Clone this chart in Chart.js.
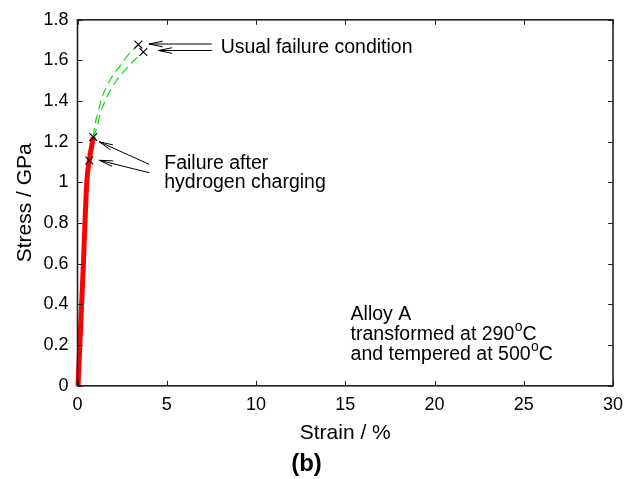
<!DOCTYPE html>
<html>
<head>
<meta charset="utf-8">
<title>Stress-strain, alloy A</title>
<script src="https://cdn.jsdelivr.net/npm/chart.js@4.4.1/dist/chart.umd.min.js"></script>
<style>
  html, body { margin: 0; padding: 0; background: #fff; }
</style>
</head>
<body>
<canvas id="stressChart" width="627" height="479"></canvas>
<script>
// values: strain in %, stress in GPa
const elasticStrain = [0.03, 0.18, 0.33, 0.52, 0.66, 0.885];
const elasticStress = [0, 0.3, 0.6, 1.0, 1.108, 1.223];

const usualUpperStrain = [0.885, 0.98, 1.17, 1.36, 1.64, 2.01, 2.38, 2.85, 3.41];
const usualUpperStress = [1.223, 1.286, 1.351, 1.417, 1.473, 1.531, 1.572, 1.629, 1.678];

const usualLowerStrain = [0.885, 1.08, 1.26, 1.54, 1.92, 2.29, 2.76, 3.22, 3.69];
const usualLowerStress = [1.223, 1.269, 1.334, 1.4, 1.465, 1.514, 1.563, 1.605, 1.642];

const failureStrain = [0.66, 0.885, 3.41, 3.69];
const failureStress = [1.108, 1.223, 1.678, 1.642];

const xTickValues = [0, 5, 10, 15, 20, 25, 30];
const yTickValues = [0, 0.2, 0.4, 0.6, 0.8, 1, 1.2, 1.4, 1.6, 1.8];

const FONT = "'Liberation Sans', Arial, Helvetica, sans-serif";

const toPoints = (xs, ys) => xs.map((v, i) => ({ x: v, y: ys[i] }));

// arrows: tail -> head, in data coordinates
const arrows = [
  { from: [7.52, 1.681], to: [4.0, 1.681] },
  { from: [7.52, 1.649], to: [4.53, 1.649] },
  { from: [4.02, 1.089], to: [1.22, 1.2] },
  { from: [4.02, 1.048], to: [1.22, 1.109] },
];

function drawArrow(ctx, x0, y0, x1, y1) {
  const ang = Math.atan2(y1 - y0, x1 - x0);
  const len = 14, spread = 0.2;
  ctx.beginPath();
  ctx.moveTo(x0, y0);
  ctx.lineTo(x1, y1);
  ctx.moveTo(x1 - len * Math.cos(ang - spread), y1 - len * Math.sin(ang - spread));
  ctx.lineTo(x1, y1);
  ctx.lineTo(x1 - len * Math.cos(ang + spread), y1 - len * Math.sin(ang + spread));
  ctx.stroke();
}

// text with a raised "o" before the trailing "C"
function drawDegreeText(ctx, text, x, y) {
  ctx.font = "19.5px " + FONT;
  ctx.fillText(text, x, y);
  let w = ctx.measureText(text).width;
  ctx.font = "14px " + FONT;
  ctx.fillText("o", x + w + 0.5, y - 8);
  w += ctx.measureText("o").width + 0.5;
  ctx.font = "19.5px " + FONT;
  ctx.fillText("C", x + w, y);
}

const figureDecor = {
  id: "figureDecor",
  afterDatasetsDraw(chart) {
    const { ctx, chartArea: a, scales: { x, y } } = chart;
    ctx.save();

    // inward ticks on all four sides
    ctx.strokeStyle = "#222";
    ctx.lineWidth = 1;
    ctx.beginPath();
    xTickValues.forEach((v) => {
      const px = Math.round(x.getPixelForValue(v)) + 0.5;
      ctx.moveTo(px, a.bottom); ctx.lineTo(px, a.bottom - 5);
      ctx.moveTo(px, a.top); ctx.lineTo(px, a.top + 5);
    });
    yTickValues.forEach((v) => {
      const py = Math.round(y.getPixelForValue(v)) + 0.5;
      ctx.moveTo(a.left, py); ctx.lineTo(a.left + 5, py);
      ctx.moveTo(a.right, py); ctx.lineTo(a.right - 5, py);
    });
    ctx.stroke();

    // frame
    ctx.lineWidth = 1.6;
    ctx.strokeRect(a.left, a.top, a.right - a.left, a.bottom - a.top);

    // arrows
    ctx.strokeStyle = "#000";
    ctx.lineWidth = 1;
    arrows.forEach((ar) => {
      drawArrow(ctx,
        x.getPixelForValue(ar.from[0]), y.getPixelForValue(ar.from[1]),
        x.getPixelForValue(ar.to[0]), y.getPixelForValue(ar.to[1]));
    });

    // labels
    ctx.fillStyle = "#000";
    ctx.textAlign = "left";
    ctx.textBaseline = "middle";
    ctx.font = "19.5px " + FONT;
    ctx.fillText("Usual failure condition", x.getPixelForValue(8.02), y.getPixelForValue(1.662));
    ctx.fillText("Failure after", x.getPixelForValue(4.86), y.getPixelForValue(1.092));
    ctx.fillText("hydrogen charging", x.getPixelForValue(4.86), y.getPixelForValue(0.999));

    const ax = x.getPixelForValue(15.3);
    ctx.fillText("Alloy A", ax, y.getPixelForValue(0.349));
    drawDegreeText(ctx, "transformed at 290", ax, y.getPixelForValue(0.251));
    drawDegreeText(ctx, "and tempered at 500", ax, y.getPixelForValue(0.152));

    ctx.restore();
  },
};

const ctx = document.getElementById("stressChart");
new Chart(ctx, {
  type: "line",
  data: {
    datasets: [
      {
        label: "elastic",
        data: toPoints(elasticStrain, elasticStress),
        borderColor: "#ff0000",
        borderWidth: 5,
        pointRadius: 0,
        cubicInterpolationMode: "monotone",
        clip: false,
        order: 2,
      },
      {
        label: "usual upper",
        data: toPoints(usualUpperStrain, usualUpperStress),
        borderColor: "#11dd11",
        borderWidth: 1.2,
        borderDash: [9, 5],
        pointRadius: 0,
        cubicInterpolationMode: "monotone",
        order: 1,
      },
      {
        label: "usual lower",
        data: toPoints(usualLowerStrain, usualLowerStress),
        borderColor: "#11dd11",
        borderWidth: 1.2,
        borderDash: [9, 5],
        pointRadius: 0,
        cubicInterpolationMode: "monotone",
        order: 1,
      },
      {
        type: "scatter",
        label: "failure",
        data: toPoints(failureStrain, failureStress),
        showLine: false,
        pointStyle: "crossRot",
        pointRadius: 5.5,
        borderColor: "#000",
        borderWidth: 1.1,
        clip: false,
        order: 0,
      },
    ],
  },
  options: {
    responsive: false,
    animation: false,
    devicePixelRatio: 1,
    layout: { padding: { top: 18.5, right: 14, left: 0, bottom: 0 } },
    plugins: {
      legend: { display: false },
      tooltip: { enabled: false },
      title: {
        display: true,
        text: "(b)",
        position: "bottom",
        color: "#000",
        font: { family: FONT, size: 24, weight: "bold" },
        padding: { top: 4.6, bottom: 0 },
      },
    },
    scales: {
      x: {
        type: "linear",
        min: 0,
        max: 30,
        afterBuildTicks: (scale) => { scale.ticks = xTickValues.map((v) => ({ value: v })); },
        afterFit: (scale) => { scale.paddingRight = 0; scale.paddingLeft = 0; },
        grid: { display: false, drawTicks: false, tickLength: 0 },
        border: { display: false },
        ticks: {
          color: "#000",
          padding: 8,
          maxRotation: 0,
          font: { family: FONT, size: 18 },
        },
        title: {
          display: true,
          text: "Strain / %",
          color: "#000",
          font: { family: FONT, size: 21 },
          padding: { top: -3, bottom: 0 },
        },
      },
      y: {
        type: "linear",
        min: 0,
        max: 1.8,
        afterBuildTicks: (scale) => { scale.ticks = yTickValues.map((v) => ({ value: v })); },
        afterFit: (scale) => { scale.width = 77.5; },
        grid: { display: false, drawTicks: false, tickLength: 0 },
        border: { display: false },
        ticks: {
          color: "#000",
          padding: 9,
          font: { family: FONT, size: 18 },
          callback: (v) => String(+v.toFixed(1)),
        },
        title: {
          display: true,
          text: "Stress / GPa",
          color: "#000",
          font: { family: FONT, size: 21 },
          padding: { top: 12.4, bottom: 0 },
        },
      },
    },
  },
  plugins: [figureDecor],
});
</script>
</body>
</html>
